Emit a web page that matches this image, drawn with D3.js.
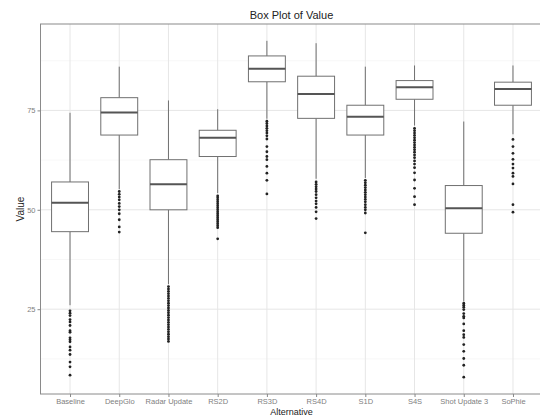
<!DOCTYPE html>
<html>
<head>
<meta charset="utf-8">
<script src="https://cdn.jsdelivr.net/npm/d3@7"></script>
<style>
body { margin: 0; background: #fff; }
text { font-family: "Liberation Sans", Arial, sans-serif; }
</style>
</head>
<body>
<div id="vis_container"></div>
<script>
var categories = ["Baseline", "DeepGlo", "Radar Update", "RS2D", "RS3D", "RS4D", "S1D", "S4S", "Shot Update 3", "SoPhie"];

// five number summaries (whisker low, q1, median, q3, whisker high)
var whisker_low = [26.0, 55.2, 31.3, 54.2, 72.9, 57.8, 58.0, 71.2, 27.0, 69.0];
var q1 = [44.5, 68.8, 50.0, 63.4, 82.2, 73.0, 68.8, 77.8, 44.1, 76.3];
var median = [51.8, 74.5, 56.4, 68.1, 85.5, 79.1, 73.4, 80.8, 50.4, 80.4];
var q3 = [57.0, 78.2, 62.6, 70.0, 88.7, 83.6, 76.3, 82.5, 56.1, 82.1];
var whisker_high = [74.4, 86.0, 77.5, 75.3, 92.5, 91.9, 86.0, 86.3, 72.2, 86.3];

var outliers = [
    [24.6, 24.0, 23.4, 22.4, 21.8, 20.9, 19.6, 19.2, 17.8, 17.3, 16.8, 15.5, 14.7, 13.6, 11.7, 10.5, 8.4],
    [54.6, 53.9, 53.2, 52.5, 51.6, 50.8, 50.0, 49.0, 47.5, 45.7, 44.4],
    [30.7, 30.1, 29.5, 28.9, 28.3, 27.7, 27.1, 26.5, 25.9, 25.3, 24.7, 24.1, 23.5, 22.9, 22.3, 21.7, 21.1, 20.5, 19.9, 19.3, 18.7, 18.1, 17.5, 16.9],
    [53.5, 53.0, 52.5, 52.0, 51.5, 51.0, 50.5, 50.0, 49.5, 49.0, 48.5, 48.0, 47.5, 47.0, 46.5, 46.0, 45.5, 42.7],
    [72.3, 71.7, 71.1, 70.5, 69.9, 69.3, 68.6, 67.8, 65.9, 64.6, 63.4, 62.6, 60.9, 59.2, 57.4, 54.0],
    [57.0, 56.4, 55.8, 55.2, 54.6, 53.8, 53.0, 52.2, 51.5, 50.6, 49.5, 47.8],
    [57.4, 56.8, 56.2, 55.6, 55.0, 54.4, 53.8, 53.2, 52.6, 52.0, 51.3, 50.6, 50.0, 49.2, 44.2],
    [70.5, 69.9, 69.3, 68.7, 68.1, 67.5, 66.9, 66.3, 65.7, 65.1, 64.5, 63.8, 63.1, 62.3, 61.5, 60.6, 59.3, 57.5, 55.4, 53.3, 51.3],
    [26.5, 26.0, 25.5, 24.9, 23.9, 23.2, 22.8, 21.3, 19.6, 18.6, 17.9, 16.1, 14.4, 12.6, 10.9, 7.9],
    [67.7, 65.9, 64.2, 62.7, 61.5, 60.5, 59.2, 58.4, 56.5, 51.3, 49.4]
];

var y_ticks = [25, 50, 75];
var y_minor = [12.5, 37.5, 62.5, 87.5];

var width = 540;
var height = 415;
var pLeft = 40.5, pRight = 542.5, pTop = 24, pBottom = 394;

var boxes = categories.map(function(c, i) {
    return { name: c, lo: whisker_low[i], q1: q1[i], med: median[i], q3: q3[i], hi: whisker_high[i], out: outliers[i] };
});

// ggplot style 5% expansion of the data range
var all_vals = d3.merge(outliers).concat(whisker_high, whisker_low);
var ymin = d3.min(all_vals), ymax = d3.max(all_vals);
var pad = (ymax - ymin) * 0.05;

var x = d3.scalePoint()
    .domain(categories)
    .range([pLeft, pRight])
    .padding(0.6);
var y = d3.scaleLinear()
    .domain([ymin - pad, ymax + pad])
    .range([pBottom, pTop]);

var bw = x.step() * 0.75;

var svg = d3.select("#vis_container")
    .append("svg")
    .attr("width", width)
    .attr("height", height);

// grid
svg.append("g").selectAll("line").data(y_minor).enter().append("line")
    .attr("x1", pLeft).attr("x2", pRight)
    .attr("y1", function(d) { return y(d); })
    .attr("y2", function(d) { return y(d); })
    .style("stroke", "#f2f2f2").style("stroke-width", 0.6);
svg.append("g").selectAll("line").data(y_ticks).enter().append("line")
    .attr("x1", pLeft).attr("x2", pRight)
    .attr("y1", function(d) { return y(d); })
    .attr("y2", function(d) { return y(d); })
    .style("stroke", "#e6e6e6").style("stroke-width", 1);
svg.append("g").selectAll("line").data(categories).enter().append("line")
    .attr("x1", function(d) { return x(d); })
    .attr("x2", function(d) { return x(d); })
    .attr("y1", pTop).attr("y2", pBottom)
    .style("stroke", "#e6e6e6").style("stroke-width", 1);

// boxes
var g = svg.append("g").selectAll("g").data(boxes).enter().append("g");

g.append("line")
    .attr("x1", function(d) { return x(d.name); })
    .attr("x2", function(d) { return x(d.name); })
    .attr("y1", function(d) { return y(d.hi); })
    .attr("y2", function(d) { return y(d.q3); })
    .style("stroke", "#707070").style("stroke-width", 1);
g.append("line")
    .attr("x1", function(d) { return x(d.name); })
    .attr("x2", function(d) { return x(d.name); })
    .attr("y1", function(d) { return y(d.q1); })
    .attr("y2", function(d) { return y(d.lo); })
    .style("stroke", "#707070").style("stroke-width", 1);
g.append("rect")
    .attr("x", function(d) { return x(d.name) - bw / 2; })
    .attr("width", bw)
    .attr("y", function(d) { return y(d.q3); })
    .attr("height", function(d) { return y(d.q1) - y(d.q3); })
    .style("fill", "#fff").style("stroke", "#707070").style("stroke-width", 1);
g.append("line")
    .attr("x1", function(d) { return x(d.name) - bw / 2; })
    .attr("x2", function(d) { return x(d.name) + bw / 2; })
    .attr("y1", function(d) { return y(d.med); })
    .attr("y2", function(d) { return y(d.med); })
    .style("stroke", "#555").style("stroke-width", 2);
g.selectAll("circle").data(function(d) { return d.out.map(function(v) { return { name: d.name, v: v }; }); })
    .enter().append("circle")
    .attr("cx", function(d) { return x(d.name); })
    .attr("cy", function(d) { return y(d.v); })
    .attr("r", 1.4)
    .style("fill", "#222");

// panel border
svg.append("rect")
    .attr("x", pLeft).attr("y", pTop)
    .attr("width", pRight - pLeft).attr("height", pBottom - pTop)
    .style("fill", "none").style("stroke", "#8a8a8a").style("stroke-width", 1);

// axes
var xa = svg.append("g")
    .attr("transform", "translate(0," + pBottom + ")")
    .call(d3.axisBottom(x).tickSize(3).tickPadding(2));
var ya = svg.append("g")
    .attr("transform", "translate(" + pLeft + ",0)")
    .call(d3.axisLeft(y).tickValues(y_ticks).tickSize(3).tickPadding(2));
[xa, ya].forEach(function(a) {
    a.select(".domain").remove();
    a.selectAll(".tick line").style("stroke", "#888");
    a.selectAll(".tick text").style("fill", "#808080").style("font-size", "7.5px")
        .style("font-family", "Liberation Sans, Arial, sans-serif");
});

svg.append("text")
    .attr("x", (pLeft + pRight) / 2)
    .attr("y", 19)
    .style("text-anchor", "middle")
    .style("font-size", "11px")
    .style("fill", "#222")
    .text("Box Plot of Value");

svg.append("text")
    .attr("x", (pLeft + pRight) / 2)
    .attr("y", 414.5)
    .style("text-anchor", "middle")
    .style("font-size", "9px")
    .style("fill", "#222")
    .text("Alternative");

svg.append("text")
    .attr("transform", "translate(24," + ((pTop + pBottom) / 2) + ") rotate(-90)")
    .style("text-anchor", "middle")
    .style("font-size", "10px")
    .style("fill", "#222")
    .text("Value");
</script>
</body>
</html>
